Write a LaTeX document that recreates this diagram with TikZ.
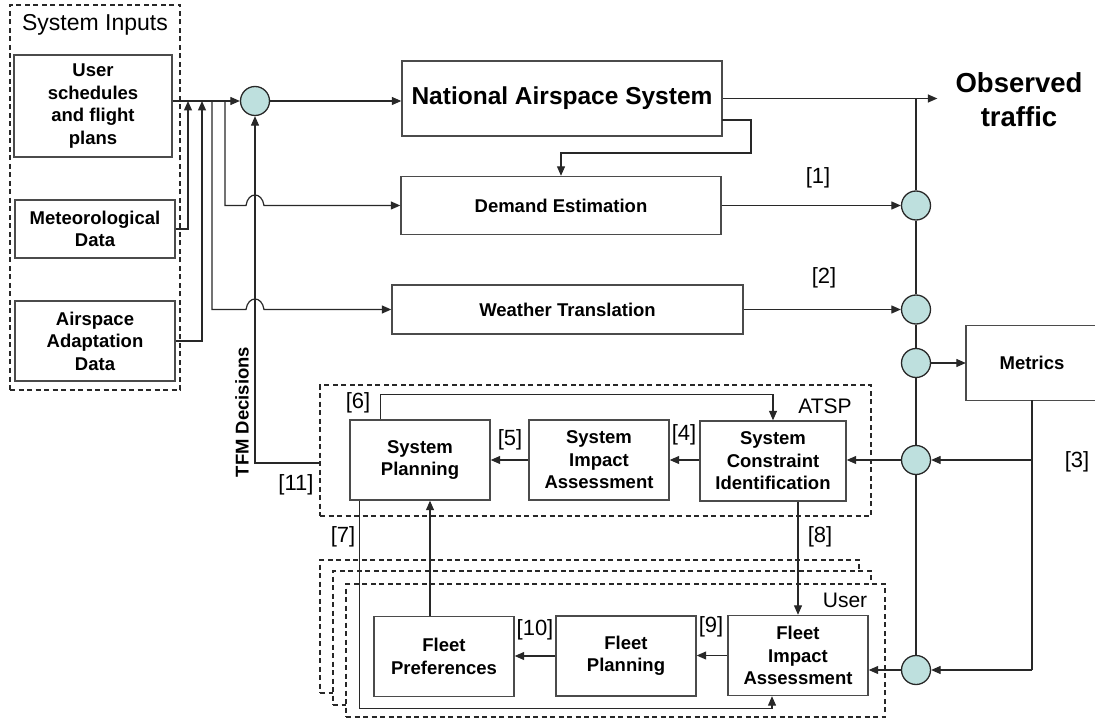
\documentclass[tikz,border=0pt]{standalone}
\usepackage{fontspec}
\setmainfont{Liberation Sans}
\usetikzlibrary{arrows.meta,calc}
\definecolor{cfill}{RGB}{190,224,222}
\definecolor{ln}{RGB}{40,40,40}
\definecolor{bx}{RGB}{75,75,75}
\tikzset{
 box/.style={draw=bx, line width=1.4pt, fill=white, align=center, inner sep=0pt, font=\bfseries\fontsize{18.5}{22.5}\selectfont},
 dbox/.style={draw=ln, line width=1.3pt, dash pattern=on 5pt off 3.5pt, inner sep=0pt},
 sumc/.style={circle, draw=ln, line width=1.3pt, fill=cfill, minimum size=29pt, inner sep=0pt},
 wire/.style={draw=ln, line width=1.2pt},
 arr/.style={wire, -{Triangle[length=9.5pt,width=8pt]}},
 lbl/.style={font=\fontsize{22}{26}\selectfont, inner sep=0pt},
}
\begin{document}
\begin{tikzpicture}[x=1pt,y=-1pt]
\useasboundingbox[fill=white] (0,0) rectangle (1095,719);

% System inputs
\node[dbox, minimum width=170pt, minimum height=385pt] (inputs) at (95,197.5) {};
\node[inner sep=0pt, font=\fontsize{23}{27}\selectfont] (intitle) at (95,25) {System Inputs};
\node[box, minimum width=158pt, minimum height=102pt] (usr) at (93,106) {User\\schedules\\and flight\\plans};
\node[box, minimum width=160pt, minimum height=58pt] (met) at (95,229) {Meteorological\\Data};
\node[box, minimum width=160pt, minimum height=80pt] (air) at (95,341) {Airspace\\Adaptation\\Data};

% main chain
\node[sumc] (c1) at (255,101) {};
\node[box, minimum width=320pt, minimum height=75pt, font=\bfseries\fontsize{24.5}{28}\selectfont] (nas) at (562,98.5) {National Airspace System};
\node[inner sep=0pt, align=center, font=\bfseries\fontsize{27.5}{34}\selectfont] (obs) at (1019,100) {Observed\\traffic};
\node[box, minimum width=320pt, minimum height=58pt] (dem) at (561,205.5) {Demand Estimation};
\node[box, minimum width=351pt, minimum height=49pt] (wea) at (567.5,309.5) {Weather Translation};

\node[sumc] (c2) at (916,205.5) {};
\node[sumc] (c3) at (916,309.5) {};
\node[sumc] (c4) at (916,363) {};
\node[sumc] (c5) at (916,460) {};
\node[sumc] (c6) at (916,670) {};

\node[inner sep=0pt, minimum width=132pt, minimum height=74pt, font=\bfseries\fontsize{18.5}{22.5}\selectfont] (metrics) at (1032,363) {Metrics};
\draw[draw=bx, line width=1.4pt] (metrics.north east) -- (metrics.north west) -- (metrics.south west) -- (metrics.south east);

% ATSP
\node[dbox, minimum width=551pt, minimum height=131pt] (atsp) at (595.5,450.5) {};
\node[lbl, font=\fontsize{21}{25}\selectfont] (atspl) at (825,406) {ATSP};
\node[box, minimum width=140pt, minimum height=80pt] (sp) at (420,460) {System\\Planning};
\node[box, minimum width=140pt, minimum height=80pt] (sia) at (599,460) {System\\Impact\\Assessment};
\node[box, minimum width=146pt, minimum height=80pt] (sci) at (773,461) {System\\Constraint\\Identification};

% User
\node[dbox, fill=white, minimum width=539pt, minimum height=133pt] (ua) at (589.5,626.5) {};
\node[dbox, fill=white, minimum width=538pt, minimum height=134pt] (ub) at (602,638) {};
\node[dbox, fill=white, minimum width=539pt, minimum height=133pt] (uc) at (615.5,650.5) {};
\node[lbl, font=\fontsize{21}{25}\selectfont] (userl) at (845,600) {User};
\node[box, minimum width=140pt, minimum height=80pt] (fpref) at (444,656.5) {Fleet\\Preferences};
\node[box, minimum width=140pt, minimum height=80pt] (fplan) at (626,656) {Fleet\\Planning};
\node[box, minimum width=140pt, minimum height=80pt] (fia) at (798,655.5) {Fleet\\Impact\\Assessment};

% junction coordinates on input bus
\coordinate (j1) at (188,101);
\coordinate (j2) at (202,101);
\coordinate (j3) at (212,101);
\coordinate (j4) at (225,101);

% input wiring
\draw[arr] (usr.east |- c1.west) -- (c1.west);
\draw[arr] (met.east) -| (j1);
\draw[arr] (air.east) -| (j2);
\coordinate (hd) at (c1 |- dem.west);
\coordinate (hw) at (c1 |- wea.west);
\draw[arr] (j4) |- ($(hd)+(-9,0)$) .. controls +(2,-14) and +(-2,-14) .. ($(hd)+(9,0)$) -- (dem.west);
\draw[arr] (j3) |- ($(hw)+(-9,0)$) .. controls +(2,-14) and +(-2,-14) .. ($(hw)+(9,0)$) -- (wea.west);

% TFM decisions
\coordinate (t11) at (320,463);
\draw[arr] (t11) -| (c1);
\node[inner sep=0pt, rotate=90, font=\bfseries\fontsize{18.5}{22}\selectfont] (tfm) at (242,412) {TFM Decisions};

% main outputs
\draw[arr] (c1) -- (nas.west |- c1);
\coordinate (otip) at ([xshift=-18pt]obs.west);
\draw[arr] (nas.east) -- (nas.east -| otip);
\coordinate (n2) at (722,120);
\draw[arr] (n2) -| ++(29,33) -| (dem.north);
\draw[arr] (dem.east) -- (c2);
\draw[arr] (wea.east) -- (c3);

% vertical bus
\draw[wire] (c2 |- nas.east) -- (c2.north);
\draw[wire] (c2.south) -- (c3.north);
\draw[wire] (c3.south) -- (c4.north);
\draw[wire] (c4.south) -- (c5.north);
\draw[wire] (c5.south) -- (c6.north);

% metrics
\draw[arr] (c4) -- (c4 -| metrics.west);
\draw[wire] (metrics.south) -- (metrics.south |- c6);
\draw[arr] (metrics.south |- c5) -- (c5);
\draw[arr] (metrics.south |- c6) -- (c6);

% ATSP internal
\draw[arr] (c5) -- (c5 -| sci.east);
\draw[arr] (sci.west |- sia.east) -- (sia.east);
\draw[arr] (sia.west) -- (sp.east);
\draw[arr] ($(sp.north west)+(31,0)$) -- ++(0,-25) -| (sci.north);

% ATSP to user
\draw[arr] (fia.north |- sci.south) -- (fia.north);
\draw[arr] ($(sp.south west)+(10,0)$) |- ($(fia.south)+(-26,12)$) -- ($(fia.south)+(-26,0)$);

% user internal
\draw[arr] (c6) -- (c6 -| fia.east);
\draw[arr] (fia.west) -- (fplan.east |- fia.west);
\draw[arr] (fplan.west) -- (fpref.east |- fplan.west);
\coordinate (fp7) at ($(fpref.north)+(-14,0)$);
\draw[arr] (fp7) -- (fp7 |- sp.south);

% labels
\node[lbl] (l1) at (818,178) {[1]};
\node[lbl] (l2) at (824,278) {[2]};
\node[lbl] (l3) at (1077,462) {[3]};
\node[lbl] (l4) at (684,435) {[4]};
\node[lbl] (l5) at (510,440) {[5]};
\node[lbl] (l6) at (358,403) {[6]};
\node[lbl] (l7) at (343,537) {[7]};
\node[lbl] (l8) at (820,537) {[8]};
\node[lbl] (l9) at (711,627) {[9]};
\node[lbl] (l10) at (535,630) {[10]};
\node[lbl] (l11) at (296,485) {[11]};
\end{tikzpicture}
\end{document}
